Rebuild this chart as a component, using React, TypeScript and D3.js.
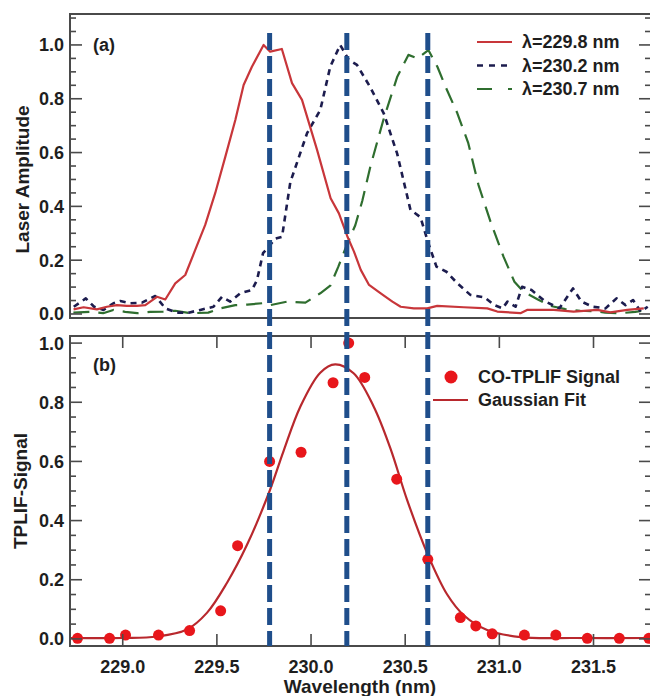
import React from 'react';
import * as d3 from 'd3';

// ---------- data ----------
const X_TICKS = [229.0, 229.5, 230.0, 230.5, 231.0, 231.5];
const Y_TICKS = [0, 0.2, 0.4, 0.6, 0.8, 1.0];
const MARKER_LINES = [229.78, 230.19, 230.62];

const LEGEND_A = ['λ=229.8 nm', 'λ=230.2 nm', 'λ=230.7 nm'];
const LEGEND_B = ['CO-TPLIF Signal', 'Gaussian Fit'];

// laser profiles [wavelength nm, amplitude]
const LASER_2298: [number, number][] = [
  [228.739, 0.017], [228.792, 0.025], [228.863, 0.017], [228.916, 0.027], [228.969, 0.033],
  [229.022, 0.030], [229.075, 0.030], [229.120, 0.033], [229.182, 0.064], [229.226, 0.054],
  [229.279, 0.114], [229.332, 0.145], [229.385, 0.238], [229.438, 0.331], [229.491, 0.449],
  [229.545, 0.585], [229.598, 0.721], [229.642, 0.851], [229.686, 0.919], [229.748, 1.000],
  [229.783, 0.975], [229.845, 0.985], [229.899, 0.858], [229.952, 0.796], [230.032, 0.610],
  [230.104, 0.430], [230.148, 0.374], [230.192, 0.290], [230.228, 0.232], [230.264, 0.164],
  [230.308, 0.108], [230.370, 0.077], [230.432, 0.046], [230.476, 0.027], [230.546, 0.021],
  [230.617, 0.021], [230.670, 0.030], [230.811, 0.025], [230.936, 0.021], [230.989, 0.009],
  [231.112, 0.003], [231.147, 0.015], [231.289, 0.015], [231.394, 0.009], [231.520, 0.015],
  [231.590, 0.006], [231.679, 0.015], [231.767, 0.021],
];

const LASER_2302: [number, number][] = [
  [228.740, 0.027], [228.804, 0.058], [228.848, 0.027], [228.898, 0.015], [228.951, 0.040],
  [228.987, 0.048], [229.040, 0.040], [229.102, 0.042], [229.173, 0.067], [229.226, 0.021],
  [229.288, 0.005], [229.350, 0.005], [229.412, 0.015], [229.482, 0.027], [229.527, 0.064],
  [229.571, 0.046], [229.624, 0.077], [229.686, 0.089], [229.713, 0.126], [229.745, 0.226],
  [229.775, 0.250], [229.810, 0.280], [229.846, 0.287], [229.890, 0.490], [229.979, 0.672],
  [230.049, 0.758], [230.102, 0.919], [230.155, 1.000], [230.200, 0.945], [230.244, 0.926],
  [230.315, 0.842], [230.386, 0.746], [230.457, 0.597], [230.528, 0.387], [230.581, 0.360],
  [230.623, 0.263], [230.666, 0.176], [230.719, 0.157], [230.777, 0.114], [230.846, 0.071],
  [230.921, 0.062], [230.974, 0.033], [231.017, 0.021], [231.043, 0.046], [231.086, 0.027],
  [231.121, 0.101], [231.171, 0.089], [231.245, 0.046], [231.319, 0.021], [231.391, 0.095],
  [231.436, 0.046], [231.495, 0.027], [231.564, 0.021], [231.622, 0.058], [231.670, 0.033],
  [231.710, 0.052], [231.750, 0.009], [231.788, 0.027],
];

const LASER_2307: [number, number][] = [
  [228.738, 0.005], [228.828, 0.008], [228.896, 0.003], [228.950, 0.015], [229.013, 0.008],
  [229.077, 0.003], [229.146, 0.008], [229.215, 0.009], [229.279, 0.012], [229.359, 0.003],
  [229.454, 0.005], [229.518, 0.021], [229.598, 0.033], [229.661, 0.035], [229.741, 0.040],
  [229.784, 0.033], [229.874, 0.046], [229.970, 0.042], [230.049, 0.077], [230.102, 0.105],
  [230.145, 0.176], [230.193, 0.262], [230.235, 0.330], [230.272, 0.420], [230.315, 0.548],
  [230.384, 0.721], [230.458, 0.882], [230.517, 0.963], [230.565, 0.950], [230.623, 0.981],
  [230.671, 0.919], [230.714, 0.845], [230.777, 0.746], [230.835, 0.635], [230.889, 0.480],
  [230.953, 0.343], [231.022, 0.213], [231.080, 0.120], [231.128, 0.083], [231.202, 0.055],
  [231.271, 0.030], [231.350, 0.018], [231.430, 0.012], [231.509, 0.010], [231.562, 0.005],
  [231.642, 0.003], [231.722, 0.008], [231.791, 0.015],
];

// TPLIF signal points
const SIGNAL_WL = [228.76, 228.93, 229.015, 229.19, 229.355, 229.52, 229.61, 229.78, 229.947, 230.117, 230.20, 230.285, 230.455, 230.62, 230.793, 230.875, 230.962, 231.133, 231.30, 231.467, 231.637, 231.794];
const SIGNAL_VAL = [0.002, 0.002, 0.013, 0.013, 0.028, 0.095, 0.315, 0.600, 0.631, 0.866, 1.0, 0.884, 0.540, 0.269, 0.072, 0.044, 0.017, 0.013, 0.013, 0.002, 0.002, 0.002];

// Gaussian fit curve
const FIT_WL = [228.72, 229.0, 229.182, 229.341, 229.447, 229.554, 229.660, 229.780, 229.854, 229.943, 230.049, 230.128, 230.226, 230.333, 230.421, 230.510, 230.620, 230.723, 230.811, 230.935, 231.112, 231.40, 231.80];
const FIT_VAL = [0.003, 0.003, 0.008, 0.032, 0.088, 0.190, 0.318, 0.500, 0.635, 0.785, 0.900, 0.928, 0.898, 0.785, 0.645, 0.470, 0.285, 0.150, 0.080, 0.030, 0.006, 0.003, 0.003];

// ---------- styles ----------
const FONT = "'Liberation Sans', Arial, Helvetica, sans-serif";
const RED = '#c8363a';
const NAVY = '#1c1c4e';
const GREEN = '#2f6e2f';
const FIT_RED = '#b8282d';
const DOT_RED = '#e8161b';
const BLUE = '#1f4e8b';
const FRAME = '#4a4a4a';
const TXT = '#1e1e1e';

export default function App() {
  const W = 650, H = 696;
  const L = 70, R = 651;
  const T1 = 14, B1 = 318, T2 = 336, B2 = 646;

  const x = d3.scaleLinear().domain([228.72, 231.80]).range([L, 650]);
  const yA = d3.scaleLinear().domain([-0.0149, 1.115]).range([B1, T1]);
  const yB = d3.scaleLinear().domain([-0.024, 1.024]).range([B2, T2]);

  const lineA = d3.line<[number, number]>().x(d => x(d[0])).y(d => yA(d[1]));
  const fitPts: [number, number][] = FIT_WL.map((w, i) => [w, FIT_VAL[i]]);
  const lineB = d3.line<[number, number]>().x(d => x(d[0])).y(d => yB(d[1])).curve(d3.curveCatmullRom.alpha(0.5));

  const fmt = d3.format('.1f');
  const minorA = d3.range(0, 1.1001, 0.05).filter(v => Math.round(v * 100) % 20 !== 0);
  const minorB = d3.range(0, 1.0001, 0.05).filter(v => Math.round(v * 100) % 20 !== 0);

  const yTicks = (y: d3.ScaleLinear<number, number>, minor: number[], key: string) => (
    <g key={key} stroke={FRAME} strokeWidth={1.6}>
      {Y_TICKS.map(v => (
        <g key={'M' + v}>
          <line x1={L} x2={L + 12} y1={y(v)} y2={y(v)} />
          <line x1={R} x2={R - 12} y1={y(v)} y2={y(v)} />
        </g>
      ))}
      {minor.map(v => (
        <g key={'m' + v}>
          <line x1={L} x2={L + 6} y1={y(v)} y2={y(v)} />
          <line x1={R} x2={R - 6} y1={y(v)} y2={y(v)} />
        </g>
      ))}
    </g>
  );

  const yLabels = (y: d3.ScaleLinear<number, number>, key: string) => (
    <g key={key}>
      {Y_TICKS.map(v => (
        <text key={v} x={64} y={y(v)} dy="0.36em" textAnchor="end" fontSize={18} fontWeight="bold" fill={TXT}>{fmt(v)}</text>
      ))}
    </g>
  );

  return (
    <svg width={W} height={H} style={{ position: 'absolute', left: 0, top: 0, background: '#fff' }} fontFamily={FONT}>
      <defs>
        <clipPath id="clipA"><rect x={L} y={T1} width={R - L} height={B1 - T1} /></clipPath>
        <clipPath id="clipB"><rect x={L} y={T2} width={R - L} height={B2 - T2} /></clipPath>
      </defs>
      <rect x={0} y={0} width={W} height={H} fill="#fff" />

      {/* ---------- panel (a) ---------- */}
      <g clipPath="url(#clipA)" fill="none" strokeLinejoin="round">
        <path d={lineA(LASER_2307) || ''} stroke={GREEN} strokeWidth={2.2} strokeDasharray="16,9" />
        <path d={lineA(LASER_2302) || ''} stroke={NAVY} strokeWidth={2.6} strokeDasharray="6,5" />
        <path d={lineA(LASER_2298) || ''} stroke={RED} strokeWidth={2.2} />
      </g>
      {yTicks(yA, minorA, 'ta')}
      <rect x={L} y={T1} width={R - L} height={B1 - T1} fill="none" stroke={FRAME} strokeWidth={2} />
      {yLabels(yA, 'la')}
      <text x={93} y={51} fontSize={18} fontWeight="bold" fill={TXT}>(a)</text>
      <text transform={`translate(29,${(yA(0) + yA(1)) / 2}) rotate(-90)`} textAnchor="middle" fontSize={19} fontWeight="bold" fill={TXT}>Laser Amplitude</text>

      {/* legend (a) */}
      {[RED, NAVY, GREEN].map((c, i) => (
        <line key={'lg' + i} x1={477} x2={512} y1={42 + i * 23.5} y2={42 + i * 23.5} stroke={c}
          strokeWidth={i === 1 ? 2.6 : 2.2}
          strokeDasharray={i === 0 ? undefined : i === 1 ? '6,6' : '15,16'} />
      ))}
      {LEGEND_A.map((t, i) => (
        <text key={'lt' + i} x={522} y={42 + i * 23.5} dy="0.36em" fontSize={18} fontWeight="bold" fill={TXT}>{t}</text>
      ))}

      {/* ---------- panel (b) ---------- */}
      <g clipPath="url(#clipB)">
        <path d={lineB(fitPts) || ''} fill="none" stroke={FIT_RED} strokeWidth={2.2} />
        {SIGNAL_WL.map((w, i) => (
          <circle key={'p' + i} cx={x(w)} cy={yB(SIGNAL_VAL[i])} r={5.5} fill={DOT_RED} />
        ))}
      </g>
      {yTicks(yB, minorB, 'tb')}
      <g stroke={FRAME} strokeWidth={1.6}>
        {X_TICKS.map(v => (
          <g key={'xt' + v}>
            <line x1={x(v)} x2={x(v)} y1={B2} y2={B2 - 12} />
            <line x1={x(v)} x2={x(v)} y1={T2} y2={T2 + 12} />
          </g>
        ))}
      </g>
      <rect x={L} y={T2} width={R - L} height={B2 - T2} fill="none" stroke={FRAME} strokeWidth={2} />
      {yLabels(yB, 'lb')}
      {X_TICKS.map(v => (
        <text key={'xl' + v} x={x(v)} y={673} textAnchor="middle" fontSize={18} fontWeight="bold" fill={TXT}>{fmt(v)}</text>
      ))}
      <text x={(L + 650) / 2} y={693} textAnchor="middle" fontSize={19} fontWeight="bold" fill={TXT}>Wavelength (nm)</text>
      <text x={93} y={371} fontSize={18} fontWeight="bold" fill={TXT}>(b)</text>
      <text transform={`translate(27,${(yB(0) + yB(1)) / 2}) rotate(-90)`} textAnchor="middle" fontSize={19} fontWeight="bold" fill={TXT}>TPLIF-Signal</text>

      {/* legend (b) */}
      <circle cx={451} cy={377} r={6.5} fill={DOT_RED} />
      <line x1={433} x2={468} y1={400} y2={400} stroke={FIT_RED} strokeWidth={2.2} />
      {LEGEND_B.map((t, i) => (
        <text key={'lb' + i} x={478} y={377 + i * 23} dy="0.36em" fontSize={18} fontWeight="bold" fill={TXT}>{t}</text>
      ))}

      {/* vertical reference lines */}
      <g stroke={BLUE} strokeWidth={5} strokeDasharray="17,6">
        {MARKER_LINES.map(v => (
          <line key={'v' + v} x1={x(v)} x2={x(v)} y1={33} y2={B2} />
        ))}
      </g>
    </svg>
  );
}
